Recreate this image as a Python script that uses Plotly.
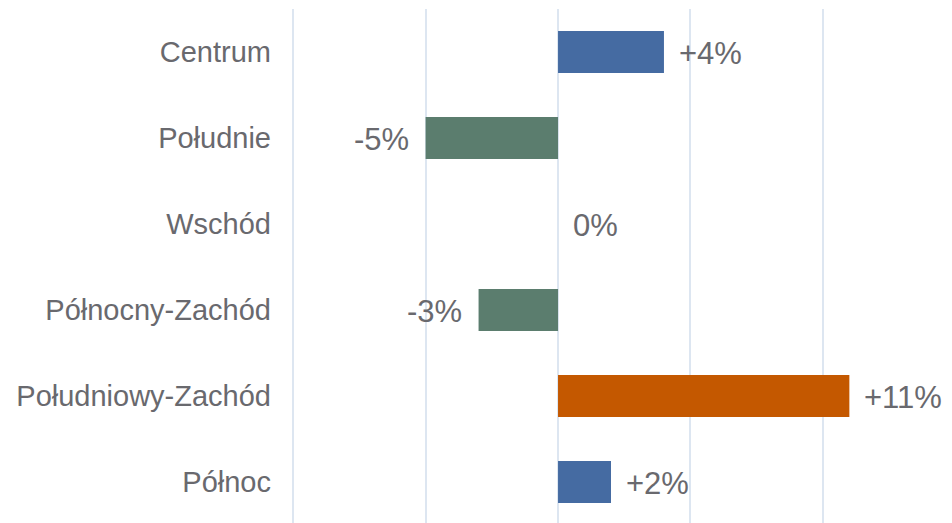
import plotly.graph_objects as go

categories = ["Centrum", "Południe", "Wschód", "Północny-Zachód", "Południowy-Zachód", "Północ"]
values = [4, -5, 0, -3, 11, 2]
labels = ["+4%", "-5%", "0%", "-3%", "+11%", "+2%"]
colors = ["#456ba2", "#5b7d6e", "#5b7d6e", "#5b7d6e", "#c45800", "#456ba2"]

TEXT = "#69696e"
FONT = "Liberation Sans, Arial, sans-serif"

fig = go.Figure(go.Bar(
    x=values, y=categories, orientation="h",
    marker=dict(color=colors, line=dict(width=0)),
    hoverinfo="skip",
))

for cat, v, lab in zip(categories, values, labels):
    neg = v < 0
    fig.add_annotation(
        x=v, y=cat, text=lab, showarrow=False,
        xanchor="right" if neg else "left",
        xshift=-15 if neg else 13, yshift=-1,
        font=dict(family=FONT, size=31, color=TEXT),
    )

fig.update_layout(
    width=952, height=523,
    margin=dict(l=282, r=10, t=1, b=6),
    paper_bgcolor="white", plot_bgcolor="white",
    bargap=0.51,
    showlegend=False,
    xaxis=dict(
        range=[-10.12, 14.8], dtick=5, showticklabels=False,
        showgrid=True, gridcolor="#dde6f1", gridwidth=2,
        zeroline=True, zerolinecolor="#dde6f1", zerolinewidth=2,
        showline=False, fixedrange=True,
    ),
    yaxis=dict(
        autorange="reversed", showgrid=False, showline=False, zeroline=False,
        ticks="", ticklabelstandoff=18,
        tickfont=dict(family=FONT, size=29, color=TEXT),
    ),
)

fig.write_html("out.html")
